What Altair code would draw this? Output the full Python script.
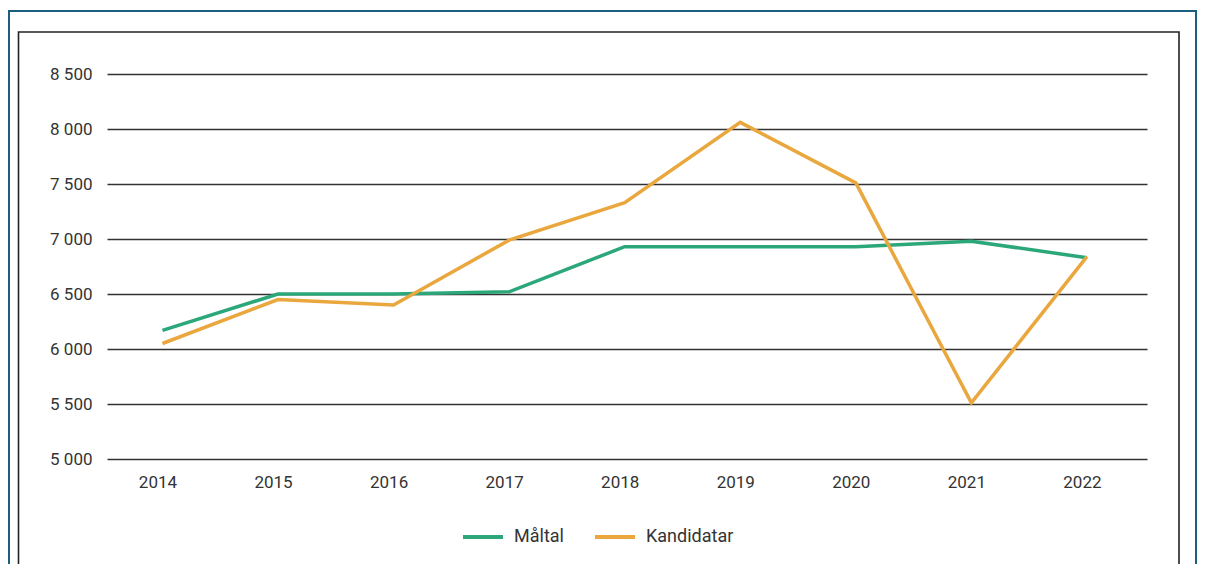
import altair as alt
import pandas as pd

years = [2014, 2015, 2016, 2017, 2018, 2019, 2020, 2021, 2022]
maltal = [6170, 6500, 6500, 6520, 6930, 6930, 6930, 6980, 6830]
kandidatar = [6050, 6450, 6400, 6990, 7330, 8060, 7510, 5510, 6840]
series_names = ["Måltal", "Kandidatar"]
series_colors = ["#2ba77a", "#e9a73e"]
y_ticks = [5000, 5500, 6000, 6500, 7000, 7500, 8000, 8500]

df = pd.DataFrame({
    "year": years + years,
    "value": maltal + kandidatar,
    "series": [series_names[0]] * len(years) + [series_names[1]] * len(years),
})

FONT = "Roboto"
TXT = "#333333"

lines = alt.Chart(df).mark_line(strokeWidth=3.5).encode(
    x=alt.X(
        "year:O",
        scale=alt.Scale(type="point", padding=0.5, align=0.48),
        axis=alt.Axis(title=None, labelAngle=0, ticks=False, domain=False, grid=False,
                      labelPadding=15, labelOffset=-5),
    ),
    y=alt.Y(
        "value:Q",
        scale=alt.Scale(domain=[5000, 8500], nice=False, zero=False),
        axis=alt.Axis(title=None, values=y_ticks, ticks=False, tickSize=0, domain=False, grid=True,
                      gridColor="#333333", gridWidth=1.6, labelPadding=15,
                      labelExpr="replace(format(datum.value, ','), ',', ' ')"),
    ),
    color=alt.Color(
        "series:N",
        scale=alt.Scale(domain=series_names, range=series_colors),
        legend=alt.Legend(title=None, orient="none", legendX=354, legendY=441,
                          direction="horizontal", symbolType="stroke", symbolSize=1600,
                          symbolStrokeWidth=4, columnPadding=23, labelOffset=9, padding=0,
                          labelFontSize=18),
    ),
)

frame_df = pd.DataFrame({"k": [0]})
blue = alt.Chart(frame_df).mark_rect(filled=False, stroke="#1a5f7e", strokeWidth=2).encode(
    x=alt.value(-98), x2=alt.value(1089), y=alt.value(-63), y2=alt.value(700)
)
black = alt.Chart(frame_df).mark_rect(filled=False, stroke="#222222", strokeWidth=1.6).encode(
    x=alt.value(-88.5), x2=alt.value(1072), y=alt.value(-42), y2=alt.value(700)
)

chart = alt.layer(blue, black, lines).properties(
    width=1040, height=385,
    padding={"left": 99, "top": 66, "right": 50, "bottom": 105},
    autosize=alt.AutoSizeParams(type="none"),
).configure_view(stroke=None).configure_axis(
    labelFont=FONT, labelFontSize=17, labelColor=TXT
).configure_legend(
    labelFont=FONT, labelFontSize=18, labelColor=TXT
)

chart.save("out.html", embed_options={"renderer": "svg", "actions": False})
